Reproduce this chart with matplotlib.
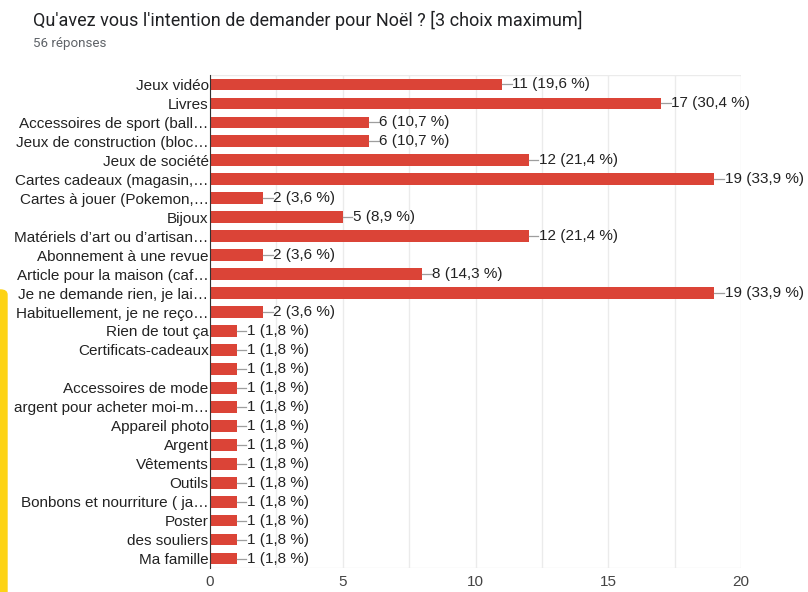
import matplotlib
matplotlib.use("Agg")
import matplotlib.pyplot as plt
from matplotlib.patches import FancyBboxPatch

labels = ["Jeux vidéo", "Livres", "Accessoires de sport (ball…",
          "Jeux de construction (bloc…", "Jeux de société",
          "Cartes cadeaux (magasin,…", "Cartes à jouer (Pokemon,…", "Bijoux",
          "Matériels d’art ou d’artisan…", "Abonnement à une revue",
          "Article pour la maison (caf…", "Je ne demande rien, je lai…",
          "Habituellement, je ne reço…", "Rien de tout ça",
          "Certificats-cadeaux", "", "Accessoires de mode",
          "argent pour acheter moi-m…", "Appareil photo", "Argent",
          "Vêtements", "Outils", "Bonbons et nourriture ( ja…", "Poster",
          "des souliers", "Ma famille"]
counts = [11, 17, 6, 6, 12, 19, 2, 5, 12, 2, 8, 19, 2,
          1, 1, 1, 1, 1, 1, 1, 1, 1, 1, 1, 1, 1]
total = 56
xticks = [0, 5, 10, 15, 20]

plt.rcParams['font.family'] = ['Liberation Sans', 'DejaVu Sans']

fig = plt.figure(figsize=(8.08, 5.92), dpi=100)
ax = fig.add_axes([210/808, 1 - 568/592, (741-210)/808, (568-75)/592])

pos = list(range(len(labels)))
ax.barh(pos, counts, height=0.62, color='#DB4437', zorder=3)

for i, c in enumerate(counts):
    ax.plot([c, c + 0.36], [i, i], color='#9e9e9e', lw=0.9, zorder=3)
    pct = "{:.1f}".format(100 * c / total).replace('.', ',')
    ax.text(c + 0.38, i, "%d (%s %%)" % (c, pct), va='center', ha='left',
            fontsize=11, color='#222222', zorder=4)

ax.set_ylim(len(labels) - 0.5, -0.5)
ax.set_xlim(0, 20)
ax.set_yticks(pos)
ax.set_yticklabels(labels, fontsize=11, color='#222222')
ax.set_xticks(xticks)
ax.set_xticklabels([str(t) for t in xticks], fontsize=11, color='#444444')
ax.set_xticks([2.5, 7.5, 12.5, 17.5], minor=True)
ax.tick_params(axis='both', which='both', length=0)
ax.tick_params(axis='y', pad=1)
ax.tick_params(axis='x', pad=5)
ax.grid(axis='x', which='both', color='#ebebeb', lw=1, zorder=0)

for s in ['top', 'right', 'bottom']:
    ax.spines[s].set_visible(False)
ax.spines['left'].set_color('#333333')
ax.spines['left'].set_zorder(5)
ax.axhline(len(labels) - 0.5, color='#ebebeb', lw=1, zorder=0)
ax.axhline(-0.5, color='#ebebeb', lw=1, zorder=0)

fig.text(33/808, 1 - 20/592, "Qu'avez vous l'intention de demander pour Noël ? [3 choix maximum]",
         fontsize=13, color='#202124', va='center', ha='left', family=['Roboto', 'DejaVu Sans'])
fig.text(33/808, 1 - 44/592, "56 réponses", fontsize=9.6, color='#5f6368',
         va='center', ha='left', family=['Roboto', 'DejaVu Sans'])

# yellow strip on the left edge
fig.patches.append(FancyBboxPatch((-0.01, -0.02), 0.01 + 7/808, (592-290)/592 + 0.02,
                                  boxstyle="round,pad=0,rounding_size=0.008",
                                  transform=fig.transFigure, color='#FDD314',
                                  figure=fig))

fig.savefig("out.png", dpi=100)
